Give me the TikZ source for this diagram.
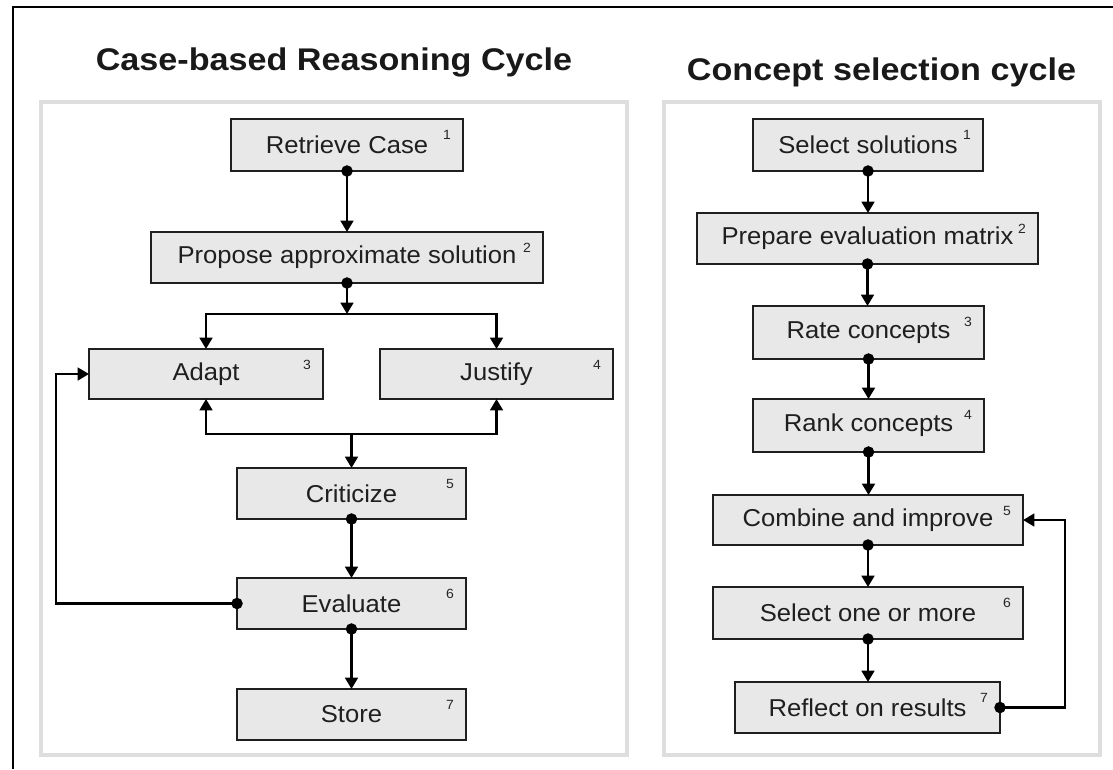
\documentclass[tikz,border=0pt]{standalone}
\usepackage{fontspec}
\setmainfont{Liberation Sans}
\newfontfamily\boxfont{Liberation Sans}[FakeStretch=1.05]
\newfontfamily\headfont{Liberation Sans}[FakeStretch=1.09]
\usetikzlibrary{arrows.meta}

\begin{document}
\begin{tikzpicture}[x=0.75pt,y=-0.75pt,
  panel/.style={draw=black!13, line width=3.2pt},
  heading/.style={font=\headfont\bfseries\fontsize{23.5pt}{26pt}\selectfont,
    text=black!90, anchor=base, inner sep=0pt},
  stepbox/.style 2 args={draw=black!88, fill=black!9, line width=1.8pt,
    minimum width=#1*0.75pt, minimum height=#2*0.75pt, inner sep=0pt, outer sep=0pt,
    text=black!88, font=\boxfont\fontsize{18.3pt}{20pt}\selectfont},
  num/.style={label={[font=\boxfont\fontsize{10pt}{11pt}\selectfont, text=black!85,
    draw=none, fill=none, minimum width=0pt, minimum height=0pt, inner sep=0pt,
    anchor=center, xshift=-12pt, yshift=-12pt]north east:#1}},
  flow/.style={line width=1.9pt, -{Triangle[length=8.5pt,width=9.5pt]}},
  dotflow/.style={flow, {Circle[length=8.5pt]}-{Triangle[length=8.5pt,width=9.5pt]},
    shorten <=-4.25pt},
]
\useasboundingbox (0,0) rectangle (1113,769);

% outer frame (top and left edges)
\draw[line width=1.8pt, line join=miter] (13,769) -- (13,7) -- (1113,7);

% panels
\draw[panel] (41,102) rectangle (627,755);
\draw[panel] (664,102) rectangle (1100,755);

% headings
\node[heading] (leftTitle) at (334,70) {Case-based Reasoning Cycle};
\node[heading] (rightTitle) at (881.5,80) {Concept selection cycle};

% ---- case-based reasoning cycle ----
\node[stepbox={232}{52}, num=1] (retrieve) at (347,145) {Retrieve Case};
\node[stepbox={392}{51}, num=2] (propose) at (347,257.5) {Propose approximate solution};
\node[stepbox={234}{50}, num=3] (adapt) at (206,374) {Adapt};
\node[stepbox={233}{50}, num=4] (justify) at (496.5,374) {Justify};
\node[stepbox={229}{51}, num=5] (criticize) at (351.5,493.5) {Criticize};
\node[stepbox={229}{51}, num=6] (evaluate) at (351.5,603.5) {Evaluate};
\node[stepbox={229}{51}, num=7] (store) at (351.5,714.5) {Store};

\coordinate (split) at (347,314);
\coordinate (merge) at (351.5,434);

\draw[dotflow] (retrieve.south) -- (propose.north);
\draw[dotflow] (propose.south) -- (split);
\draw[flow] (split) -| (adapt.north);
\draw[flow] (split) -| (justify.north);
\draw[flow] (merge) -| (adapt.south);
\draw[flow] (merge) -| (justify.south);
\draw[flow] (merge) -- (criticize.north);
\draw[dotflow] (criticize.south) -- (evaluate.north);
\draw[dotflow] (evaluate.south) -- (store.north);
\draw[dotflow] (evaluate.west) -- ++(-181,0) |- (adapt.west);

% ---- concept selection cycle ----
\node[stepbox={230}{52}, num=1] (selsol) at (868,145) {Select solutions};
\node[stepbox={341}{51}, num=2] (prepare) at (867.5,238.5) {Prepare evaluation matrix};
\node[stepbox={231}{53}, num=3] (rate) at (868.5,332.5) {Rate concepts};
\node[stepbox={231}{53}, num=4] (rank) at (868.5,425.5) {Rank concepts};
\node[stepbox={310}{50}, num=5] (combine) at (868,520) {Combine and improve};
\node[stepbox={310}{52}, num=6] (selone) at (868,613) {Select one or more};
\node[stepbox={265}{51}, num=7] (reflect) at (867.5,707.5) {Reflect on results};

\draw[dotflow] (selsol.south) -- (selsol.south |- prepare.north);
\draw[dotflow] (prepare.south) -- (prepare.south |- rate.north);
\draw[dotflow] (rate.south) -- (rate.south |- rank.north);
\draw[dotflow] (rank.south) -- (rank.south |- combine.north);
\draw[dotflow] (combine.south) -- (combine.south |- selone.north);
\draw[dotflow] (selone.south) -- (selone.south |- reflect.north);
\draw[dotflow] (reflect.east) -- ++(65,0) |- (combine.east);

\end{tikzpicture}
\end{document}
